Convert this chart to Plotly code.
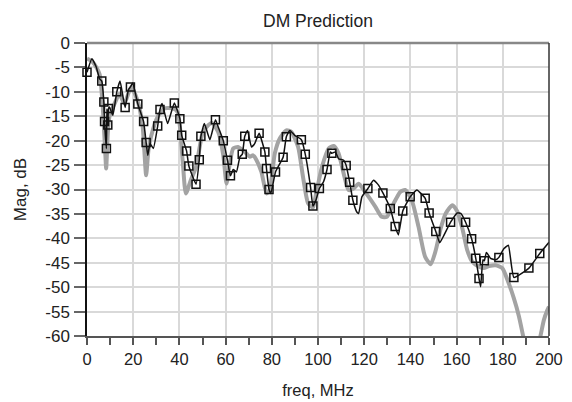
import plotly.graph_objects as go

# Gray thick curve
gray_f = [0, 2.5, 5.4, 6.8, 7.85, 8.3, 9.0, 9.7, 12.6, 14.0, 16.2, 19.1, 22.0, 24.1, 24.8, 25.6, 26.6, 27.7,
          30.6, 33.5, 37.0, 39.2, 41.4, 42.8, 45.0, 47.2, 50.0, 51.8, 54.0, 56.8, 59.0, 60.4, 61.8, 63.3,
          65.4, 68.3, 70.5, 71.9, 73.4, 75.5, 77.7, 79.1, 81.3, 83.4, 86.3, 88.5, 91.4, 93.5, 95.7, 97.8,
          98.9, 101.7, 104.6, 106.8, 108.9, 111.1, 113.2, 115.4, 117.6, 120.4, 124.8, 127.6, 129.8, 132.7,
          135.6, 137.7, 140.6, 143.5, 146.4, 148.8, 151.0, 153.1, 155.3, 158.2, 160.3, 162.5, 164.6, 166.8,
          169.7, 171.8, 174.0, 176.9, 179.8, 182.0, 184.8, 187.0, 188.8, 190.5, 192.5, 194.5, 196.3, 197.8,
          199.3, 200]
gray_db = [-3.2, -3.9, -6.3, -13.0, -21.9, -25.7, -18.5, -15.1, -11.7, -10.4, -12.4, -9.0, -12.0, -17.2, -21.9, -27.1, -21.9, -19.2,
           -15.1, -13.4, -13.4, -14.1, -24.0, -30.8, -28.0, -25.4, -18.5, -17.2, -16.4, -18.2, -23.0, -28.8, -24.7, -21.6,
           -21.3, -22.3, -23.3, -23.0, -24.0, -26.4, -30.8, -30.1, -22.6, -19.6, -17.9, -18.2, -21.3, -27.4, -32.8, -33.7,
           -31.5, -25.4, -21.6, -21.1, -22.6, -26.7, -30.1, -29.8, -28.8, -30.5, -33.5, -35.6, -35.6, -32.9,
           -30.5, -30.1, -32.2, -37.6, -43.8, -45.3, -42.4, -38.0, -34.9, -33.2, -34.5, -38.0, -42.4, -44.8,
           -45.8, -46.1, -45.7, -45.5, -46.1, -48.5, -52.3, -56.0, -60.0, -63.5, -65.0, -63.5, -60.0, -56.7,
           -54.7, -54.0]

# Thin black curve
black_f = [0, 2.1, 4.0, 5.4, 6.4, 7.3, 7.6, 8.4, 8.6, 9.0, 9.3, 9.7, 11.2, 12.9, 14.3, 16.5, 17.9, 18.8, 19.8, 22.0,
           24.5, 25.6, 26.3, 27.3, 28.7, 30.6, 31.6, 32.5, 34.9, 37.8, 40.2, 41.0, 43.1, 44.1, 47.2, 48.6, 49.3,
           50.8, 53.2, 55.6, 56.8, 59.0, 60.8, 62.1, 63.3, 64.7, 66.2, 67.2, 68.3, 69.5, 71.2, 72.6, 74.5, 77.0,
           77.7, 78.8, 79.6, 81.6, 84.9, 86.3, 87.8, 89.9, 92.8, 94.5, 96.8, 97.8, 99.1, 100.6, 102.4, 103.9,
           105.3, 106.0, 107.5, 108.9, 111.1, 112.2, 113.7, 115.1, 116.8, 117.6, 119.0, 121.6, 124.0, 126.2,
           128.1, 131.3, 133.4, 134.8, 136.7, 139.9, 142.8, 146.4, 148.1, 151.0, 152.7, 154.6, 157.4, 160.3,
           161.8, 163.9, 166.5, 168.3, 169.7, 170.4, 171.4, 172.0, 172.9, 174.7, 176.9, 178.3, 180.5, 182.4,
           184.8, 191.3, 196.0, 200]
black_db = [-6.0, -3.2, -4.9, -7.3, -7.8, -12.1, -16.1, -21.6, -13.5, -16.8, -13.4, -13.1, -14.8, -10.0, -7.8, -13.2, -9.6, -9.0, -8.2, -12.5,
            -16.1, -20.4, -23.0, -20.6, -21.6, -17.0, -13.6, -12.4, -16.5, -12.3, -15.5, -18.9, -22.1, -25.2, -28.9, -23.9, -19.1,
            -16.5, -19.8, -15.7, -17.2, -20.0, -24.0, -27.2, -25.9, -26.4, -23.3, -22.8, -19.1, -17.9, -21.3, -20.6, -18.5, -22.3,
            -25.7, -30.0, -30.8, -26.4, -23.4, -19.2, -17.9, -18.9, -19.8, -22.8, -29.6, -33.4, -32.2, -29.8, -28.4, -25.9,
            -22.3, -22.6, -22.3, -23.7, -24.0, -25.1, -28.5, -32.2, -34.6, -34.9, -31.5, -29.8, -28.1, -29.1,
            -30.7, -33.9, -37.6, -39.3, -34.4, -31.5, -30.1, -31.8, -34.8, -38.6, -40.9, -39.3, -36.7, -34.8,
            -34.9, -36.7, -40.1, -44.1, -48.2, -49.9, -44.4, -44.6, -42.9, -44.1, -44.4, -43.9, -42.1, -41.4,
            -48.0, -46.1, -43.1, -40.8]

# Square markers (on the black curve)
mk_f = [0, 6.4, 7.3, 7.6, 8.4, 9.0, 9.3, 12.9, 16.5, 18.8, 22.0, 24.5, 25.6, 30.6, 31.6, 37.8, 40.2, 41.0, 43.1,
        44.1, 47.2, 48.6, 49.3, 55.6, 59.0, 60.8, 62.1, 67.2, 68.3, 74.5, 77.0, 77.7, 78.8, 81.6, 84.9, 86.3,
        92.8, 94.5, 96.8, 97.8, 100.6, 103.9, 106.0, 112.2, 113.7, 115.1, 121.6, 128.1, 131.3, 133.4, 136.7,
        139.9, 146.4, 148.1, 151.0, 157.4, 163.9, 166.5, 168.3, 169.7, 172.0, 178.3, 184.8, 191.3, 196.0]
mk_db = [-6.0, -7.8, -12.1, -16.1, -21.6, -16.8, -13.4, -10.0, -13.2, -9.0, -12.5, -16.1, -20.4, -17.0, -13.6, -12.3, -15.5, -18.9, -22.1,
         -25.2, -28.9, -23.9, -19.1, -15.7, -20.0, -24.0, -27.2, -22.8, -19.1, -18.5, -22.3, -25.7, -30.0, -26.4, -23.4, -19.2,
         -19.8, -22.8, -29.6, -33.4, -29.8, -25.9, -22.6, -25.1, -28.5, -32.2, -29.8, -30.7, -33.9, -37.6, -34.4,
         -31.5, -31.8, -34.8, -38.6, -36.7, -36.7, -40.1, -44.1, -48.2, -44.6, -43.9, -48.0, -46.1, -43.1]

x_ticks = [0, 20, 40, 60, 80, 100, 120, 140, 160, 180, 200]
x_labels = [str(v) for v in x_ticks]
y_ticks = [0, -5, -10, -15, -20, -25, -30, -35, -40, -45, -50, -55, -60]
y_labels = ["0", "-5", "-10", "-15", "-20", "-25", "-30", "-35", "-40", "-45", "-50", "-55", "-60"]

FONT = "Liberation Sans, Arial, sans-serif"
TXT = "#222222"

fig = go.Figure()
fig.add_trace(go.Scatter(x=gray_f, y=gray_db, mode="lines",
                         line=dict(color="#a3a3a3", width=4, shape="spline", smoothing=0.6),
                         hoverinfo="skip"))
fig.add_trace(go.Scatter(x=black_f, y=black_db, mode="lines",
                         line=dict(color="#111111", width=1.5, shape="spline", smoothing=0.4)))
fig.add_trace(go.Scatter(x=mk_f, y=mk_db, mode="markers", cliponaxis=False,
                         marker=dict(symbol="square-open", size=8, color="#111111",
                                     line=dict(width=1.5, color="#111111"))))

# page body has an 8px margin; figure sized so it fits the 572x402 window
fig.update_layout(
    width=564, height=394,
    margin=dict(l=78.5, r=22.5, t=34.7, b=66),
    paper_bgcolor="white", plot_bgcolor="white",
    showlegend=False,
    font=dict(family=FONT, size=17, color=TXT),
    title=dict(text="DM Prediction", x=0.5, xref="paper", xanchor="center",
               y=1 - 12.5 / 394, yref="container", yanchor="middle",
               font=dict(family=FONT, size=17.5, color=TXT)),
)
fig.update_xaxes(
    range=[0, 200], tickmode="array", tickvals=x_ticks, ticktext=x_labels,
    ticks="outside", ticklen=7, tickwidth=1.5, tickcolor="#555555",
    ticklabelstandoff=0,
    minor=dict(dtick=10, ticks="outside", ticklen=7, tickwidth=1.5, tickcolor="#555555", showgrid=False),
    showgrid=True, gridcolor="#d9d9d9", gridwidth=2,
    showline=True, linecolor="#555555", linewidth=2,
    zeroline=False, automargin=False,
    tickfont=dict(size=16.5, color=TXT),
    title=dict(text="freq, MHz", font=dict(size=16.5, color=TXT), standoff=18),
)
fig.update_yaxes(
    range=[-60, 0], tickmode="array", tickvals=y_ticks, ticktext=y_labels,
    ticks="outside", ticklen=11, tickwidth=1.5, tickcolor="#666666",
    ticklabelstandoff=1,
    showgrid=True, gridcolor="#d9d9d9", gridwidth=1.5,
    showline=True, linecolor="#111111", linewidth=1.5,
    zeroline=False, automargin=False,
    tickfont=dict(size=17, color=TXT),
    title=dict(text="Mag, dB", font=dict(size=17, color=TXT), standoff=14),
)
# top and right frame lines
fig.add_shape(type="line", xref="paper", yref="paper", x0=0, x1=1, y0=1, y1=1,
              line=dict(color="#888888", width=2.5))
fig.add_shape(type="line", xref="paper", yref="paper", x0=1, x1=1, y0=0, y1=1,
              line=dict(color="#333333", width=1.5))

fig.write_html("out.html")
